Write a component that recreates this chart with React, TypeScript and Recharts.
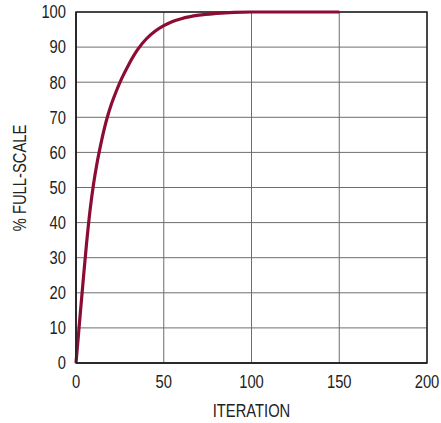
import {
  LineChart,
  Line,
  XAxis,
  YAxis,
  CartesianGrid,
  ReferenceArea,
} from "recharts";

const iterations = [
  0, 2, 4, 6, 8, 10, 12, 14, 16, 18, 20, 23, 26, 30, 35, 40, 45, 50, 55, 60,
  70, 80, 90, 100, 150,
];
const fullScale = [
  0, 11.6, 23, 34, 43.5, 51, 57, 62, 66.5, 70.3, 73.5, 77.5, 81, 85, 89.2,
  92.3, 94.5, 96.1, 97.3, 98.1, 99.1, 99.6, 99.9, 100, 100,
];
const xTicks = [0, 50, 100, 150, 200];
const yTicks = [0, 10, 20, 30, 40, 50, 60, 70, 80, 90, 100];

const data = iterations.map((it, i) => ({ iteration: it, pct: fullScale[i] }));

// no condensed font installed, so squeeze Liberation Sans horizontally
const FONT = '"Liberation Sans", Arial, sans-serif';
const SQUEEZE = 0.82;
const textStyle = { fontFamily: FONT, fontSize: 18, fill: "#222" };

function NarrowText({ x, y, anchor, dy, rotate = 0, children }: any) {
  return (
    <text
      transform={`translate(${x},${y}) rotate(${rotate}) scale(${SQUEEZE},1)`}
      textAnchor={anchor}
      dy={dy}
      style={textStyle}
    >
      {children}
    </text>
  );
}

const XTick = ({ x, y, payload }: any) => (
  <NarrowText x={x} y={y} anchor="middle" dy="0.71em">
    {payload.value}
  </NarrowText>
);

const YTick = ({ x, y, payload }: any) => (
  <NarrowText x={x} y={y} anchor="end" dy="0.355em">
    {payload.value}
  </NarrowText>
);

export default function App() {
  return (
    <div style={{ position: "fixed", left: 0, top: 0, background: "#fff" }}>
      <LineChart
        width={441}
        height={423}
        data={data}
        margin={{ top: 12, right: 14, bottom: 0, left: 0 }}
      >
        <CartesianGrid stroke="#6e6e6e" strokeWidth={1} />
        <XAxis
          dataKey="iteration"
          type="number"
          domain={[0, 200]}
          ticks={xTicks}
          height={60}
          tickLine={false}
          tickSize={0}
          tickMargin={12}
          axisLine={{ stroke: "#222", strokeWidth: 1.5 }}
          tick={<XTick />}
          label={{
            content: ({ viewBox }: any) => (
              <NarrowText
                x={viewBox.x + viewBox.width / 2}
                y={viewBox.y + viewBox.height - 6}
                anchor="middle"
              >
                ITERATION
              </NarrowText>
            ),
          }}
        />
        <YAxis
          type="number"
          domain={[0, 100]}
          ticks={yTicks}
          width={76}
          tickLine={false}
          tickSize={0}
          tickMargin={10}
          axisLine={{ stroke: "#222", strokeWidth: 1.5 }}
          tick={<YTick />}
          label={{
            content: () => (
              <NarrowText x={20} y={178} anchor="middle" dy="0.355em" rotate={-90}>
                % FULL-SCALE
              </NarrowText>
            ),
          }}
        />
        <ReferenceArea
          x1={0}
          x2={200}
          y1={0}
          y2={100}
          fill="none"
          stroke="#222"
          strokeWidth={1.5}
        />
        <Line
          type="monotone"
          dataKey="pct"
          stroke="#8b0d33"
          strokeWidth={3.2}
          dot={false}
          isAnimationActive={false}
        />
      </LineChart>
    </div>
  );
}
